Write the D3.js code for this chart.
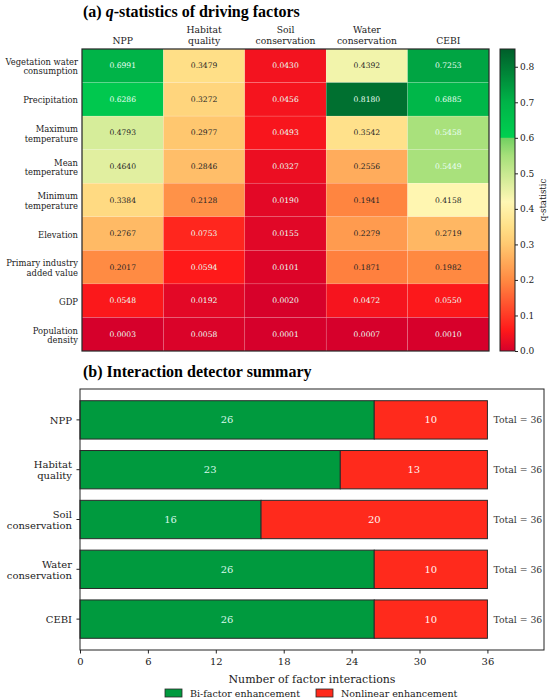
<!DOCTYPE html>
<html>
<head>
<meta charset="utf-8">
<script src="https://cdn.jsdelivr.net/npm/d3@7"></script>
<style>
  body { margin: 0; background: #fff; }
  svg text { font-family: "DejaVu Serif", serif; }
  .title { font-family: "Liberation Serif", "Times New Roman", serif !important; font-weight: bold; font-size: 16px; }
</style>
</head>
<body>
<svg id="chart" width="550" height="698"></svg>
<script>
// heatmap data
const factors = ["Vegetation water\nconsumption", "Precipitation", "Maximum\ntemperature", "Mean\ntemperature",
  "Minimum\ntemperature", "Elevation", "Primary industry\nadded value", "GDP", "Population\ndensity"];
const services = ["NPP", "Habitat\nquality", "Soil\nconservation", "Water\nconservation", "CEBI"];
const qNPP = [0.6991, 0.6286, 0.4793, 0.4640, 0.3384, 0.2767, 0.2017, 0.0548, 0.0003];
const qHabitat = [0.3479, 0.3272, 0.2977, 0.2846, 0.2128, 0.0753, 0.0594, 0.0192, 0.0058];
const qSoil = [0.0430, 0.0456, 0.0493, 0.0327, 0.0190, 0.0155, 0.0101, 0.0020, 0.0001];
const qWater = [0.4392, 0.8180, 0.3542, 0.2556, 0.1941, 0.2279, 0.1871, 0.0472, 0.0007];
const qCEBI = [0.7253, 0.6885, 0.5458, 0.5449, 0.4158, 0.2719, 0.1982, 0.0550, 0.0010];
const cbTicks = [0.0, 0.1, 0.2, 0.3, 0.4, 0.5, 0.6, 0.7, 0.8];

// interaction data
const targets = ["NPP", "Habitat\nquality", "Soil\nconservation", "Water\nconservation", "CEBI"];
const biFactor = [26, 23, 16, 26, 26];
const nonlinear = [10, 13, 20, 10, 10];
const xTicks = [0, 6, 12, 18, 24, 30, 36];

const svg = d3.select("#chart");

const color = d3.scaleLinear()
  .domain([0, 0.06, 0.2, 0.3, 0.35, 0.42, 0.55, 0.5999, 0.6, 0.7, 0.85])
  .range(["#d6002b", "#ff1a1a", "#ff8a42", "#ffc870", "#ffe088", "#fff7b4", "#a6e07a", "#72d062", "#00d050", "#00b448", "#005e2a"])
  .clamp(true);

function multiline(sel, label, lh, anchorMid) {
  const lines = label.split("\n");
  lines.forEach((t, i) => {
    sel.append("tspan")
      .attr("x", 0)
      .attr("dy", i === 0 ? (anchorMid ? -(lines.length - 1) * lh / 2 : 0) : lh)
      .text(t);
  });
}

// ---------- (a) heatmap ----------
svg.append("text").attr("class", "title").attr("x", 83).attr("y", 17)
  .html('(a) <tspan font-style="italic">q</tspan>-statistics of driving factors');

const cols = [qNPP, qHabitat, qSoil, qWater, qCEBI];
const hx = d3.scaleBand().domain(services).range([82, 489]);
const hy = d3.scaleBand().domain(factors).range([49, 351]);

const cells = [];
services.forEach((s, j) => factors.forEach((f, i) => cells.push({ s, f, v: cols[j][i] })));

const hm = svg.append("g");
hm.selectAll("rect").data(cells).join("rect")
  .attr("x", d => hx(d.s)).attr("y", d => hy(d.f))
  .attr("width", hx.bandwidth()).attr("height", hy.bandwidth())
  .attr("fill", d => color(d.v))
  .attr("stroke", "rgba(255,255,255,0.25)").attr("stroke-width", 0.5);

hm.selectAll("text").data(cells).join("text")
  .attr("x", d => hx(d.s) + hx.bandwidth() / 2)
  .attr("y", d => hy(d.f) + hy.bandwidth() / 2)
  .attr("text-anchor", "middle").attr("dominant-baseline", "central")
  .attr("font-size", 7.6)
  .attr("fill", d => (d.v < 0.1 || d.v > 0.5) ? "#eafff4" : "#262626")
  .text(d => d.v.toFixed(4));

svg.append("rect").attr("x", 82).attr("y", 49).attr("width", 407).attr("height", 302)
  .attr("fill", "none").attr("stroke", "#222").attr("stroke-width", 1.2);

// column headers
services.forEach(s => {
  const n = s.split("\n").length;
  const t = svg.append("text")
    .attr("transform", `translate(${hx(s) + hx.bandwidth() / 2},${43.5 - (n - 1) * 11})`)
    .attr("text-anchor", "middle").attr("font-size", 9.2).attr("fill", "#222");
  multiline(t, s, 11, false);
});
// row labels
factors.forEach(f => {
  const t = svg.append("text")
    .attr("transform", `translate(78,${hy(f) + hy.bandwidth() / 2 + 4})`)
    .attr("text-anchor", "end").attr("font-size", 8.4).attr("fill", "#222");
  multiline(t, f, 9.4, true);
});

// colorbar
const cbScale = d3.scaleLinear().domain([0, 0.85]).range([351, 49]);
const grad = svg.append("defs").append("linearGradient").attr("id", "cbgrad")
  .attr("x1", 0).attr("y1", 1).attr("x2", 0).attr("y2", 0);
d3.range(0, 401).forEach(k => {
  const v = 0.85 * k / 400;
  grad.append("stop").attr("offset", k / 400).attr("stop-color", color(v));
});
svg.append("rect").attr("x", 500).attr("y", 49).attr("width", 15).attr("height", 302)
  .attr("fill", "url(#cbgrad)").attr("stroke", "#222").attr("stroke-width", 1);
const cbAxis = svg.append("g").attr("transform", "translate(515,0)")
  .call(d3.axisRight(cbScale).tickValues(cbTicks).tickFormat(d3.format(".1f")).tickSize(3).tickPadding(2));
cbAxis.select(".domain").remove();
cbAxis.selectAll("text").attr("font-size", 9).attr("fill", "#222").style("font-family", "DejaVu Serif");
cbAxis.selectAll("line").attr("stroke", "#222");
svg.append("text").attr("transform", "translate(546,200) rotate(-90)")
  .attr("text-anchor", "middle").attr("font-size", 8.5).attr("fill", "#222").text("q-statistic");

// ---------- (b) interaction summary ----------
svg.append("text").attr("class", "title").attr("x", 83).attr("y", 377)
  .text("(b) Interaction detector summary");

const bx = d3.scaleLinear().domain([0, 41]).range([80, 544]);
const by = d3.scaleBand().domain(targets).range([389, 650]).paddingInner(0.23).paddingOuter(0.235);

const rows = targets.map((t, i) => ({ t, b: biFactor[i], n: nonlinear[i] }));

const bars = svg.append("g");
bars.selectAll("rect.bi").data(rows).join("rect").attr("class", "bi")
  .attr("x", bx(0)).attr("y", d => by(d.t))
  .attr("width", d => bx(d.b) - bx(0)).attr("height", by.bandwidth())
  .attr("fill", "#009a3e").attr("stroke", "#2a2a2a").attr("stroke-width", 1);
bars.selectAll("rect.nl").data(rows).join("rect").attr("class", "nl")
  .attr("x", d => bx(d.b)).attr("y", d => by(d.t))
  .attr("width", d => bx(d.b + d.n) - bx(d.b)).attr("height", by.bandwidth())
  .attr("fill", "#ff2a1c").attr("stroke", "#2a2a2a").attr("stroke-width", 1);

bars.selectAll("text.bi").data(rows).join("text").attr("class", "bi")
  .attr("x", d => bx(d.b / 2)).attr("y", d => by(d.t) + by.bandwidth() / 2)
  .attr("text-anchor", "middle").attr("dominant-baseline", "central")
  .attr("font-size", 10).attr("fill", "#d6f7ea").text(d => d.b);
bars.selectAll("text.nl").data(rows).join("text").attr("class", "nl")
  .attr("x", d => bx(d.b + d.n / 2)).attr("y", d => by(d.t) + by.bandwidth() / 2)
  .attr("text-anchor", "middle").attr("dominant-baseline", "central")
  .attr("font-size", 10).attr("fill", "#fff4f0").text(d => d.n);
bars.selectAll("text.tot").data(rows).join("text").attr("class", "tot")
  .attr("x", d => bx(d.b + d.n) + 6).attr("y", d => by(d.t) + by.bandwidth() / 2)
  .attr("dominant-baseline", "central")
  .attr("font-size", 9.3).attr("fill", "#333").text(d => "Total = " + (d.b + d.n));

svg.append("rect").attr("x", 80).attr("y", 389).attr("width", 464).attr("height", 261)
  .attr("fill", "none").attr("stroke", "#222").attr("stroke-width", 1);

const yAx = svg.append("g").attr("transform", "translate(80,0)")
  .call(d3.axisLeft(by).tickSize(3.5).tickPadding(3).tickFormat(""));
yAx.select(".domain").remove();
yAx.selectAll("line").attr("stroke", "#222");
targets.forEach(t => {
  const txt = svg.append("text")
    .attr("transform", `translate(72,${by(t) + by.bandwidth() / 2 + 4})`)
    .attr("text-anchor", "end").attr("font-size", 10).attr("fill", "#222");
  multiline(txt, t, 11.5, true);
});

const xAx = svg.append("g").attr("transform", "translate(0,650)")
  .call(d3.axisBottom(bx).tickValues(xTicks).tickSize(3.5).tickPadding(4));
xAx.select(".domain").remove();
xAx.selectAll("line").attr("stroke", "#222");
xAx.selectAll("text").attr("font-size", 10).attr("fill", "#222").style("font-family", "DejaVu Serif");

svg.append("text").attr("x", 312).attr("y", 683).attr("text-anchor", "middle")
  .attr("font-size", 11).attr("fill", "#222").text("Number of factor interactions");

// legend
const legend = [["Bi-factor enhancement", "#009a3e", 165], ["Nonlinear enhancement", "#ff2a1c", 316]];
legend.forEach(([lab, c, x]) => {
  svg.append("rect").attr("x", x).attr("y", 689).attr("width", 17).attr("height", 8)
    .attr("fill", c).attr("stroke", "#2a2a2a").attr("stroke-width", 0.8);
  svg.append("text").attr("x", x + 25).attr("y", 696.5)
    .attr("font-size", 9.5).attr("fill", "#222").text(lab);
});
</script>
</body>
</html>
